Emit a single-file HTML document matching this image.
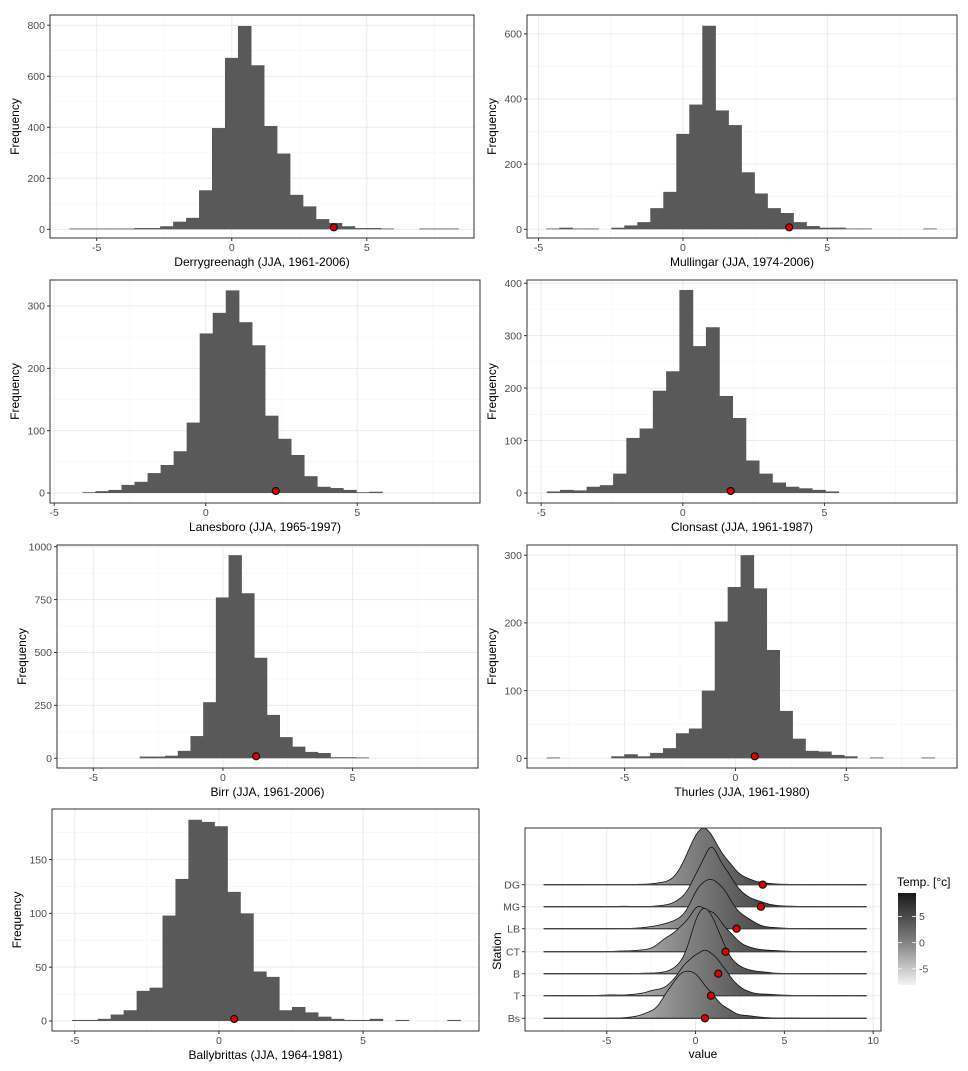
<!DOCTYPE html>
<html><head><meta charset="utf-8">
<style>
html,body{margin:0;padding:0;background:#fff;}
svg{display:block;font-family:"Liberation Sans",Arial,sans-serif;}
</style></head>
<body>
<svg id="fig" width="968" height="1071" viewBox="0 0 968 1071" xmlns="http://www.w3.org/2000/svg">
<defs>
<linearGradient id="tempGrad" gradientUnits="userSpaceOnUse" x1="0" y1="0" x2="1" y2="0"></linearGradient>
<linearGradient id="legGrad" x1="0" y1="1" x2="0" y2="0">
<stop offset="0" stop-color="#f4f4f4"/><stop offset="0.5" stop-color="#7a7a7a"/><stop offset="1" stop-color="#1a1a1a"/>
</linearGradient>
</defs>
</svg>
<script>
// ---- data: histograms (bin start, bin width, counts), observed value ----
const dgStart = -6.0, dgWidth = 0.48;
const dgCounts = [2,2,2,2,2,5,5,12,30,45,153,397,672,797,643,405,297,135,90,40,25,12,5,5,2,0,0,2,2,2];
const dgObs = 3.78;
const mgStart = -4.72, mgWidth = 0.45;
const mgCounts = [2,5,2,2,0,5,12,22,65,115,293,383,625,365,320,175,110,65,50,22,10,5,5,2,2,0,0,0,0,2];
const mgObs = 3.68;
const lbStart = -4.06, lbWidth = 0.43;
const lbCounts = [1,3,5,13,18,32,45,67,113,256,289,325,274,237,124,87,61,27,10,8,5,1,2];
const lbObs = 2.31;
const ctStart = -4.79, ctWidth = 0.468;
const ctCounts = [3,6,5,12,15,37,105,123,195,232,387,280,316,185,143,62,37,20,12,9,6,3];
const ctObs = 1.69;
const bStart = -3.2, bWidth = 0.49;
const bCounts = [8,8,12,35,105,265,760,960,780,475,205,100,55,30,25,5,5,3];
const bObs = 1.28;
const tStart = -8.5, tWidth = 0.583;
const tCounts = [1,0,0,0,0,3,6,3,8,15,37,44,100,202,253,300,251,160,70,29,11,10,5,3,0,1,0,0,0,1];
const tObs = 0.87;
const bsStart = -5.09, bsWidth = 0.449;
const bsCounts = [1,1,2,6,10,28,31,98,132,187,185,181,120,100,46,41,10,13,8,4,2,1,1,2,0,1,0,0,0,1];
const bsObs = 0.53;

const xTicks = [-5,0,5];
const ridgeXTicks = [-5,0,5,10];
const stationCodes = ["DG","MG","LB","CT","B","T","Bs"];
const legendTicks = [5,0,-5];

const NS="http://www.w3.org/2000/svg";
const svg=document.getElementById('fig');
function mk(tag,attrs,parent){const e=document.createElementNS(NS,tag);for(const k in attrs)e.setAttribute(k,attrs[k]);(parent||svg).appendChild(e);return e;}
function lin(d0,d1,r0,r1){return v=>r0+(v-d0)*(r1-r0)/(d1-d0);}

const panels=[
 {name:'derrygreenagh',title:'Derrygreenagh (JJA, 1961-2006)',box:[50,15,474,238],xd:[-6.73,8.97],yd:[-34,840],yt:[0,200,400,600,800],start:dgStart,w:dgWidth,c:dgCounts,obs:dgObs},
 {name:'mullingar',title:'Mullingar (JJA, 1974-2006)',box:[527,15,957,238],xd:[-5.4,9.49],yd:[-26.7,658],yt:[0,200,400,600],start:mgStart,w:mgWidth,c:mgCounts,obs:mgObs},
 {name:'lanesboro',title:'Lanesboro (JJA, 1965-1997)',box:[50,280,480,503],xd:[-5.14,9.05],yd:[-16,341.7],yt:[0,100,200,300],start:lbStart,w:lbWidth,c:lbCounts,obs:lbObs},
 {name:'clonsast',title:'Clonsast (JJA, 1961-1987)',box:[527,280,957,503],xd:[-5.5,9.68],yd:[-19,406],yt:[0,100,200,300,400],start:ctStart,w:ctWidth,c:ctCounts,obs:ctObs},
 {name:'birr',title:'Birr (JJA, 1961-2006)',box:[57,545,478,768],xd:[-6.4,9.84],yd:[-46,1008],yt:[0,250,500,750,1000],start:bStart,w:bWidth,c:bCounts,obs:bObs},
 {name:'thurles',title:'Thurles (JJA, 1961-1980)',box:[527,545,957,768],xd:[-9.4,9.99],yd:[-14.3,315],yt:[0,100,200,300],start:tStart,w:tWidth,c:tCounts,obs:tObs},
 {name:'ballybrittas',title:'Ballybrittas (JJA, 1964-1981)',box:[52,809,479,1031],xd:[-5.79,9.02],yd:[-9.3,197],yt:[0,50,100,150],start:bsStart,w:bsWidth,c:bsCounts,obs:bsObs}
];

function drawFrame(g,box,xs,ys,xt,yt,xd,yd){
  const [l,t,r,b]=box;
  for(let i=0;i<xt.length+1;i++){
    const v=(i<xt.length?xt[i]:xt[xt.length-1]+(xt[1]-xt[0]))-(xt[1]-xt[0])/2;
    if(v>xd[0]&&v<xd[1]){const ln=mk('line',{x1:xs(v),x2:xs(v),y1:t,y2:b,stroke:'#f4f4f4','stroke-width':0.6},g);
      }
  }
  if(yt.length>1){const st=yt[1]-yt[0];
    for(let i=0;i<=yt.length;i++){const v=yt[0]+st*(i-0.5)+st;if(v>yd[0]&&v<yd[1]){const ln=mk('line',{x1:l,x2:r,y1:ys(v),y2:ys(v),stroke:'#f4f4f4','stroke-width':0.6},g);
      }}
  }
  xt.forEach(v=>{const ln=mk('line',{x1:xs(v),x2:xs(v),y1:t,y2:b,stroke:'#ebebeb','stroke-width':1},g);
    });
  yt.forEach(v=>{const ln=mk('line',{x1:l,x2:r,y1:ys(v),y2:ys(v),stroke:'#ebebeb','stroke-width':1},g);
    });
}
function drawAxes(g,box,xs,ys,xt,yt,ylabels){
  const [l,t,r,b]=box;
  xt.forEach(v=>{
    mk('line',{x1:xs(v),x2:xs(v),y1:b,y2:b+3,stroke:'#333','stroke-width':1},g);
    const tx=mk('text',{x:xs(v),y:b+13,'text-anchor':'middle','font-size':10.5,fill:'#4d4d4d'},g);
    tx.textContent=v;
    
  });
  yt.forEach((v,i)=>{
    mk('line',{x1:l-3,x2:l,y1:ys(v),y2:ys(v),stroke:'#333','stroke-width':1},g);
    const tx=mk('text',{x:l-5,y:ys(v)+3.7,'text-anchor':'end','font-size':10.5,fill:'#4d4d4d'},g);
    tx.textContent=ylabels?ylabels[i]:v;
    
  });
  const bd=mk('rect',{x:l,y:t,width:r-l,height:b-t,fill:'none',stroke:'#333','stroke-width':1},g);
  
}

panels.forEach(p=>{
  const g=mk('g',{});
  
  
  const [l,t,r,b]=p.box;
  const xs=lin(p.xd[0],p.xd[1],l,r), ys=lin(p.yd[0],p.yd[1],b,t);
  drawFrame(g,p.box,xs,ys,xTicks,p.yt,p.xd,p.yd);
  p.c.forEach((cnt,i)=>{
    const x0=p.start+i*p.w, x1=x0+p.w;
    if(cnt<=0) return;
    const y=ys(cnt), y0=ys(0);
    const rc=mk('rect',{x:xs(x0)-0.3,y:Math.min(y,y0-0.8),width:xs(x1)-xs(x0)+0.6,height:Math.max(y0-y,0.8),fill:'#595959'},g);
    
    
  });
  const dot=mk('circle',{cx:xs(p.obs),cy:ys(0)-2,r:3.5,fill:'#e00000',stroke:'#111','stroke-width':1.2},g);
  
  
  drawAxes(g,p.box,xs,ys,xTicks,p.yt);
  const cx=(l+r)/2;
  const tt=mk('text',{x:cx,y:b+28,'text-anchor':'middle','font-size':12,fill:'#000'},g);
  tt.textContent=p.title;
  
  const yy=(t+b)/2, yx=l-31;
  const yti=mk('text',{x:yx,y:yy,'text-anchor':'middle','font-size':12,fill:'#000',transform:`rotate(-90 ${yx} ${yy})`},g);
  yti.textContent='Frequency';
  
});

// ---- ridgeline panel ----
(function(){
  const g=mk('g',{});
  
  
  const box=[525,828,881,1031];const [l,t,r,b]=box;
  const xd=[-9.6,10.44];
  const xs=lin(xd[0],xd[1],l,r);
  const baseY=[884.7,906.7,928.7,951.7,973.7,995.7,1018.3];
  const src=[panels[0],panels[1],panels[2],panels[3],panels[4],panels[5],panels[6]];
  const grad=document.getElementById('tempGrad');
  grad.setAttribute('x1',xs(-8.1));grad.setAttribute('x2',xs(9.5));
  [['0','#f4f4f4'],['0.4','#8a8a8a'],['0.7','#444'],['1','#1a1a1a']].forEach(s=>mk('stop',{offset:s[0],'stop-color':s[1]},grad));
  for(let i=0;i<ridgeXTicks.length;i++){const v=ridgeXTicks[i]-2.5;
    const ln=mk('line',{x1:xs(v),x2:xs(v),y1:t,y2:b,stroke:'#f4f4f4','stroke-width':0.6},g);
    }
  ridgeXTicks.forEach(v=>{const ln=mk('line',{x1:xs(v),x2:xs(v),y1:t,y2:b,stroke:'#ebebeb','stroke-width':1},g);
    });
  baseY.forEach(y=>{const ln=mk('line',{x1:l,x2:r,y1:y,y2:y,stroke:'#ebebeb','stroke-width':1},g);
    });
  const K=140, bw=0.33, lo=-8.55, hi=9.64;
  src.forEach((p,si)=>{
    const N=p.c.reduce((a,c)=>a+c,0);
    const pts=[];
    for(let x=lo;x<=hi+1e-9;x+=0.04){
      let d=0;
      p.c.forEach((cnt,i)=>{if(!cnt)return;const cx=p.start+(i+0.5)*p.w;const z=(x-cx)/bw;d+=cnt*Math.exp(-0.5*z*z);});
      d=d/(N*bw*Math.sqrt(2*Math.PI));
      pts.push([xs(x),baseY[si]-d*K]);
    }
    let dpath='M'+xs(lo)+','+baseY[si];
    pts.forEach(q=>dpath+=' L'+q[0].toFixed(2)+','+q[1].toFixed(2));
    dpath+=' L'+xs(hi)+','+baseY[si]+' Z';
    const area=mk('path',{d:dpath,fill:'url(#tempGrad)',stroke:'none'},g);
    
    
    let lp='M'+pts.map(q=>q[0].toFixed(2)+','+q[1].toFixed(2)).join(' L');
    const ln=mk('path',{d:lp,fill:'none',stroke:'#111','stroke-width':0.8},g);
    
    
    const bl=mk('line',{x1:xs(lo),x2:xs(hi),y1:baseY[si],y2:baseY[si],stroke:'#444','stroke-width':1.3},g);
    
    
  });
  src.forEach((p,si)=>{
    const dot=mk('circle',{cx:xs(p.obs),cy:baseY[si],r:3.6,fill:'#e00000',stroke:'#111','stroke-width':1.2},g);
    
    
  });
  ridgeXTicks.forEach(v=>{
    mk('line',{x1:xs(v),x2:xs(v),y1:b,y2:b+3,stroke:'#333','stroke-width':1},g);
    const tx=mk('text',{x:xs(v),y:b+13,'text-anchor':'middle','font-size':10.5,fill:'#4d4d4d'},g);
    tx.textContent=v;
    
  });
  stationCodes.forEach((s,i)=>{
    mk('line',{x1:l-3,x2:l,y1:baseY[i],y2:baseY[i],stroke:'#333','stroke-width':1},g);
    const tx=mk('text',{x:l-5,y:baseY[i]+3.7,'text-anchor':'end','font-size':10.5,fill:'#4d4d4d'},g);
    tx.textContent=s;
    
  });
  const bd=mk('rect',{x:l,y:t,width:r-l,height:b-t,fill:'none',stroke:'#333','stroke-width':1},g);
  
  const xt=mk('text',{x:(l+r)/2,y:1058,'text-anchor':'middle','font-size':12,fill:'#000'},g);
  xt.textContent='value';
  
  const yt=mk('text',{x:501,y:951,'text-anchor':'middle','font-size':12,fill:'#000',transform:'rotate(-90 501 951)'},g);
  yt.textContent='Station';
  
  const lg=mk('g',{},g);
  
  
  const lt=mk('text',{x:897,y:886,'font-size':12,fill:'#000'},lg);
  lt.textContent='Temp. [°c]';
  
  const cb=mk('rect',{x:898,y:893,width:18,height:92,fill:'url(#legGrad)'},lg);
  
  const ly=lin(-8.1,9.5,985,893);
  legendTicks.forEach(v=>{
    mk('line',{x1:898,x2:902,y1:ly(v),y2:ly(v),stroke:'#fff','stroke-width':0.8},lg);
    mk('line',{x1:912,x2:916,y1:ly(v),y2:ly(v),stroke:'#fff','stroke-width':0.8},lg);
    const tx=mk('text',{x:919,y:ly(v)+3.7,'font-size':10.5,fill:'#4d4d4d'},lg);
    tx.textContent=v;
    
  });
})();
</script>
</body></html>
